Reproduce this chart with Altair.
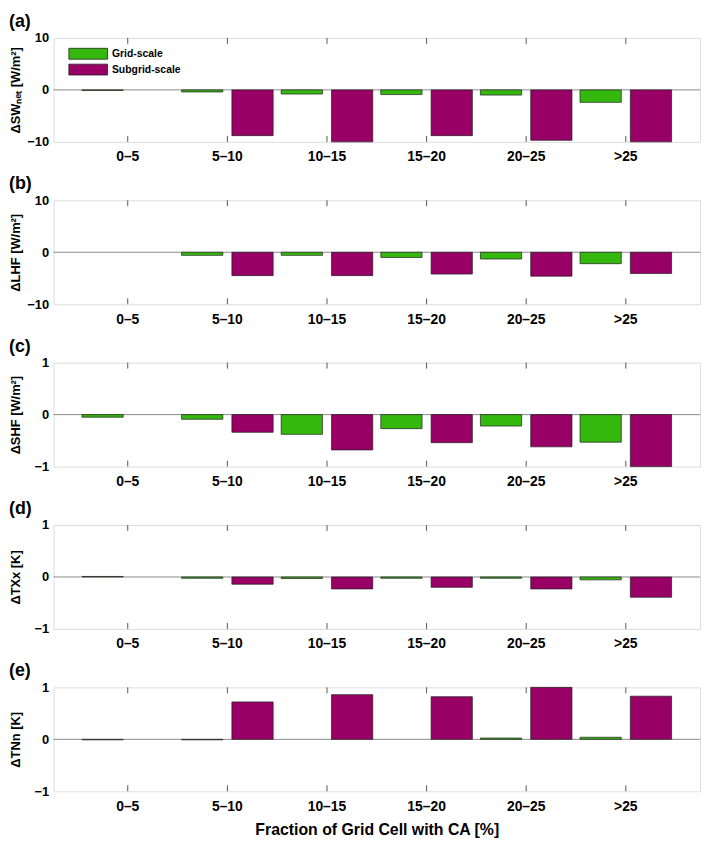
import altair as alt
import pandas as pd

categories = ["0–5", "5–10", "10–15", "15–20", "20–25", ">25"]
series = ["Grid-scale", "Subgrid-scale"]

sw_grid = [-0.1, -0.4, -0.8, -0.9, -1.0, -2.4]
sw_sub = [None, -8.8, -10.0, -8.8, -9.7, -10.0]
lhf_grid = [None, -0.6, -0.6, -1.0, -1.3, -2.2]
lhf_sub = [None, -4.5, -4.5, -4.2, -4.6, -4.1]
shf_grid = [-0.05, -0.09, -0.38, -0.27, -0.22, -0.53]
shf_sub = [None, -0.34, -0.68, -0.54, -0.62, -1.0]
txx_grid = [0.01, -0.025, -0.03, -0.025, -0.025, -0.055]
txx_sub = [None, -0.14, -0.23, -0.20, -0.23, -0.39]
tnn_grid = [-0.01, -0.01, None, None, 0.025, 0.04]
tnn_sub = [None, 0.72, 0.86, 0.82, 1.0, 0.83]

panel_labels = ["(a)", "(b)", "(c)", "(d)", "(e)"]
y_titles = ["ΔSWₙₑₜ [W/m²]", "ΔLHF [W/m²]", "ΔSHF [W/m²]", "ΔTXx [K]", "ΔTNn [K]"]
y_ticks = [[-10, 0, 10], [-10, 0, 10], [-1, 0, 1], [-1, 0, 1], [-1, 0, 1]]
grid_vals = [sw_grid, lhf_grid, shf_grid, txx_grid, tnn_grid]
sub_vals = [sw_sub, lhf_sub, shf_sub, txx_sub, tnn_sub]
x_title = "Fraction of Grid Cell with CA [%]"

GREEN = "#35b80e"
PURPLE = "#990066"
FONT = "Liberation Sans"
W, H = 653, 105
Y_LABEL_EXPR = "datum.value < 0 ? '\u2212' + format(abs(datum.value), 'd') : format(datum.value, 'd')"


def make_panel(i):
    rows = []
    for c, g, s in zip(categories, grid_vals[i], sub_vals[i]):
        if g is not None:
            rows.append({"cat": c, "series": series[0], "value": g})
        if s is not None:
            rows.append({"cat": c, "series": series[1], "value": s})
    df = pd.DataFrame(rows)
    lim = y_ticks[i][-1]
    last = i == len(panel_labels) - 1
    first = i == 0

    xaxis_kw = dict(
        labelAngle=0, domain=False, ticks=False, labelFont=FONT, labelFontSize=14,
        labelFontWeight="bold", labelColor="black", labelPadding=8,
    )
    if last:
        xaxis_kw.update(title=x_title, titleFont=FONT, titleFontSize=16, titleFontWeight="bold",
                        titleColor="black", titlePadding=9)
    else:
        xaxis_kw.update(title=None)
    xenc = alt.X("cat:N", sort=categories,
                 scale=alt.Scale(domain=categories, paddingInner=0, paddingOuter=0.245),
                 axis=alt.Axis(**xaxis_kw))
    yenc = alt.Y("value:Q",
                 scale=alt.Scale(domain=[-lim, lim], nice=False, zero=True),
                 axis=alt.Axis(values=y_ticks[i], labelExpr=Y_LABEL_EXPR, labelOverlap=False,
                               title=y_titles[i], domain=False,
                               ticks=False, grid=False, labelFont=FONT, labelFontSize=13,
                               labelFontWeight="bold", labelColor="black", labelPadding=5,
                               minExtent=28, maxExtent=28, titlePadding=3, titleFont=FONT,
                               titleFontSize=13, titleFontWeight="bold", titleColor="black"))
    if first:
        legend = alt.Legend(title=None, orient="none", legendX=29, legendY=10,
                            symbolType="M-3.55,-1H3.55V1H-3.55Z", symbolSize=121,
                            symbolStrokeColor="#222222", symbolStrokeWidth=0.8,
                            labelFont=FONT, labelFontSize=10.5, labelFontWeight="bold",
                            labelColor="black", labelOffset=18, rowPadding=0, padding=0)
    else:
        legend = None
    color = alt.Color("series:N", scale=alt.Scale(domain=series, range=[GREEN, PURPLE]), legend=legend)

    zero = alt.Chart(pd.DataFrame({"value": [0]})).mark_rule(color="#8a8a8a", strokeWidth=1).encode(y=yenc)
    bars = alt.Chart(df).mark_bar(stroke="#1e1e1e", strokeWidth=0.7, opacity=1).encode(
        x=xenc, y=yenc,
        xOffset=alt.XOffset("series:N", sort=series,
                            scale=alt.Scale(domain=series, paddingInner=0.18, paddingOuter=0.08)),
        color=color,
    )
    cat_df = pd.DataFrame({"cat": categories})
    top_ticks = alt.Chart(cat_df).mark_rule(color="#555555", strokeWidth=1).encode(
        x=xenc, y=alt.value(0), y2=alt.value(6))
    bot_ticks = alt.Chart(cat_df).mark_rule(color="#555555", strokeWidth=1).encode(
        x=xenc, y=alt.value(H), y2=alt.value(H - 6))
    tag = alt.Chart(pd.DataFrame({"tag": [panel_labels[i]]})).mark_text(
        align="left", baseline="alphabetic", font=FONT, fontSize=18, fontWeight="bold", color="black"
    ).encode(text="tag:N", x=alt.value(-45), y=alt.value(-11))
    return alt.layer(zero, bars, top_ticks, bot_ticks, tag).properties(width=W, height=H)


chart = alt.vconcat(*[make_panel(i) for i in range(5)], spacing=10).resolve_legend(
    color="independent"
).properties(
    padding={"left": 0, "top": 0, "right": 0, "bottom": 0}
).configure_view(stroke="#707070", strokeWidth=1).configure(background="white")

chart.save("out.html", embed_options={"renderer": "svg", "actions": False})
